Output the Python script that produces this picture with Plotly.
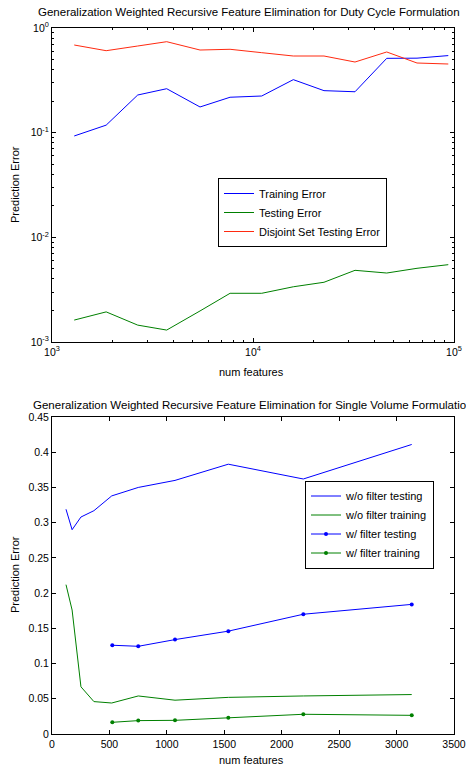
import plotly.graph_objects as go

# ---- Top chart data (Duty Cycle formulation) ----
top_features = [1290, 1860, 2670, 3720, 5450, 7690, 11050, 15870, 22550, 32170, 46270, 65460, 93670]
training_error = [0.093, 0.118, 0.229, 0.263, 0.176, 0.218, 0.224, 0.321, 0.252, 0.246, 0.513, 0.515, 0.545]
testing_error = [0.00162, 0.00194, 0.00145, 0.00130, 0.00198, 0.00292, 0.00292, 0.00337, 0.00372, 0.00484, 0.00456, 0.00506, 0.00548]
disjoint_error = [0.688, 0.607, 0.673, 0.740, 0.616, 0.626, 0.581, 0.540, 0.540, 0.473, 0.590, 0.463, 0.453]
top_x_ticks = [1000, 10000, 100000]
top_x_labels = ["10<sup>3</sup>", "10<sup>4</sup>", "10<sup>5</sup>"]
top_y_ticks = [0.001, 0.01, 0.1, 1]
top_y_labels = ["10<sup>-3</sup>", "10<sup>-2</sup>", "10<sup>-1</sup>", "10<sup>0</sup>"]

# ---- Bottom chart data (Single Volume formulation) ----
wo_features = [122, 175, 252, 365, 520, 751, 1071, 1535, 2188, 3132]
wo_testing = [0.319, 0.290, 0.308, 0.317, 0.338, 0.350, 0.360, 0.383, 0.362, 0.411]
wo_training = [0.212, 0.176, 0.067, 0.046, 0.044, 0.054, 0.048, 0.052, 0.054, 0.056]
w_features = [525, 751, 1071, 1535, 2188, 3132]
w_testing = [0.126, 0.1245, 0.134, 0.146, 0.170, 0.184]
w_training = [0.0166, 0.019, 0.0194, 0.023, 0.028, 0.0265]
x_ticks_bottom = [0, 500, 1000, 1500, 2000, 2500, 3000, 3500]

W, H = 466, 767
BLUE = "#0000ff"
GREEN = "#008000"
RED = "#ff2a10"
FONT = "Liberation Sans, Arial, sans-serif"


def px_x(p):
    return p / W


def px_y(p):
    return 1 - p / H


fig = go.Figure()

fig.add_trace(go.Scatter(x=top_features, y=training_error, mode="lines", name="Training Error",
                         line=dict(color=BLUE, width=1), xaxis="x", yaxis="y", legend="legend"))
fig.add_trace(go.Scatter(x=top_features, y=testing_error, mode="lines", name="Testing Error",
                         line=dict(color=GREEN, width=1), xaxis="x", yaxis="y", legend="legend"))
fig.add_trace(go.Scatter(x=top_features, y=disjoint_error, mode="lines", name="Disjoint Set Testing Error",
                         line=dict(color=RED, width=1), xaxis="x", yaxis="y", legend="legend"))

fig.add_trace(go.Scatter(x=wo_features, y=wo_testing, mode="lines", name="w/o filter testing",
                         line=dict(color=BLUE, width=1), xaxis="x2", yaxis="y2", legend="legend2"))
fig.add_trace(go.Scatter(x=wo_features, y=wo_training, mode="lines", name="w/o filter training",
                         line=dict(color=GREEN, width=1), xaxis="x2", yaxis="y2", legend="legend2"))
fig.add_trace(go.Scatter(x=w_features, y=w_testing, mode="lines+markers", name="w/ filter testing",
                         line=dict(color=BLUE, width=1), marker=dict(size=4, color=BLUE),
                         xaxis="x2", yaxis="y2", legend="legend2"))
fig.add_trace(go.Scatter(x=w_features, y=w_training, mode="lines+markers", name="w/ filter training",
                         line=dict(color=GREEN, width=1), marker=dict(size=4, color=GREEN),
                         xaxis="x2", yaxis="y2", legend="legend2"))

axis_common = dict(showline=True, linecolor="#000", linewidth=1, mirror="ticks", ticks="inside",
                   ticklen=4, tickcolor="#000", showgrid=False, zeroline=False, automargin=False,
                   tickfont=dict(family=FONT, size=10.5, color="#000"))

minor_log = dict(ticks="inside", ticklen=2, tickcolor="#000", dtick="D1", showgrid=False)

legend_font = dict(family=FONT, size=11, color="#000")

fig.update_layout(
    width=W, height=H,
    margin=dict(l=0, r=0, t=0, b=0, pad=0, autoexpand=False),
    paper_bgcolor="white", plot_bgcolor="white",
    font=dict(family=FONT, size=10.5, color="#000"),
    xaxis=dict(domain=[px_x(52), px_x(454)], anchor="y", type="log", range=[3, 5],
               tickvals=top_x_ticks, ticktext=top_x_labels, minor=minor_log, **axis_common),
    yaxis=dict(domain=[px_y(342), px_y(28)], anchor="x", type="log", range=[-3, 0],
               tickvals=top_y_ticks, ticktext=top_y_labels, minor=minor_log, **axis_common),
    xaxis2=dict(domain=[px_x(52), px_x(454)], anchor="y2", range=[0, 3500], tickvals=x_ticks_bottom,
                **axis_common),
    yaxis2=dict(domain=[px_y(734), px_y(417)], anchor="x2", range=[0, 0.45], dtick=0.05,
                **axis_common),
    legend=dict(x=px_x(218), y=px_y(212.5), xanchor="left", yanchor="middle",
                bordercolor="#000", borderwidth=1, bgcolor="white", font=legend_font),
    legend2=dict(x=px_x(305), y=px_y(524.5), xanchor="left", yanchor="middle",
                 bordercolor="#000", borderwidth=1, bgcolor="white", font=legend_font),
    showlegend=True,
)

ann = dict(xref="paper", yref="paper", showarrow=False)
title_font = dict(family=FONT, size=11.5, color="#000")
label_font = dict(family=FONT, size=11, color="#000")
fig.add_annotation(text="Generalization Weighted Recursive Feature Elimination for Duty Cycle Formulation",
                   x=px_x(249), y=px_y(12), xanchor="center", yanchor="middle", font=title_font, **ann)
fig.add_annotation(text="Generalization Weighted Recursive Feature Elimination for Single Volume Formulation",
                   x=px_x(253), y=px_y(405), xanchor="center", yanchor="middle", font=title_font, **ann)
fig.add_annotation(text="num features", x=px_x(251), y=px_y(372), xanchor="center", yanchor="middle",
                   font=label_font, **ann)
fig.add_annotation(text="num features", x=px_x(251), y=px_y(760), xanchor="center", yanchor="middle",
                   font=label_font, **ann)
fig.add_annotation(text="Prediction Error", x=px_x(15), y=px_y(185), xanchor="center", yanchor="middle",
                   textangle=-90, font=label_font, **ann)
fig.add_annotation(text="Prediction Error", x=px_x(15), y=px_y(575), xanchor="center", yanchor="middle",
                   textangle=-90, font=label_font, **ann)

fig.write_html("out.html", config={"displayModeBar": False},
               post_script="document.body.style.margin='0';document.body.style.overflow='hidden';")
